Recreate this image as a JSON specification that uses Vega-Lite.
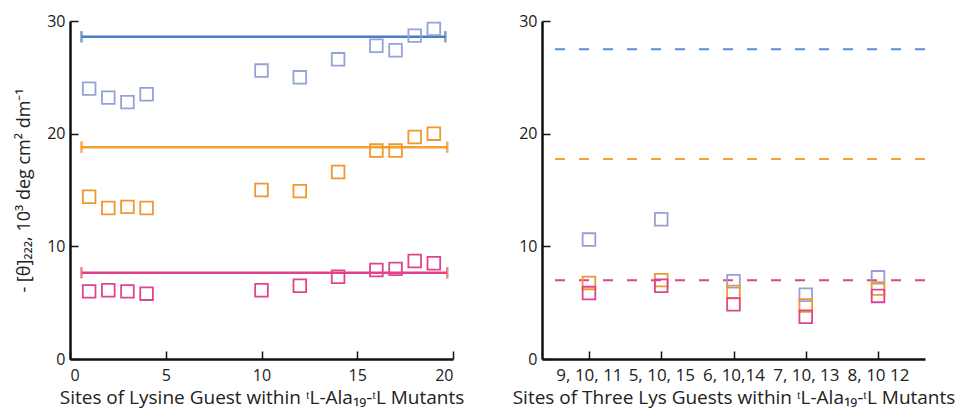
{
  "$schema": "https://vega.github.io/schema/vega-lite/v6.json",
  "background": "white",
  "padding": {"left": 15, "top": 13, "right": 5, "bottom": 5},
  "spacing": 42,
  "config": {
    "view": {"stroke": null},
    "axis": {
      "grid": false,
      "domainColor": "#111",
      "domainWidth": 2.5,
      "tickColor": "#111",
      "tickWidth": 1.5,
      "tickSize": -8,
      "labelFont": "Open Sans",
      "labelFontSize": 16,
      "labelColor": "#222",
      "titleFont": "Open Sans",
      "titleFontSize": 19,
      "titleFontWeight": "normal",
      "titleColor": "#222"
    }
  },
  "datasets": {
    "single": [
      {"site": 1, "series": "blue", "value": 24.0},
      {"site": 2, "series": "blue", "value": 23.2},
      {"site": 3, "series": "blue", "value": 22.8},
      {"site": 4, "series": "blue", "value": 23.5},
      {"site": 10, "series": "blue", "value": 25.6},
      {"site": 12, "series": "blue", "value": 25.0},
      {"site": 14, "series": "blue", "value": 26.6},
      {"site": 16, "series": "blue", "value": 27.8},
      {"site": 17, "series": "blue", "value": 27.4},
      {"site": 18, "series": "blue", "value": 28.7},
      {"site": 19, "series": "blue", "value": 29.3},
      {"site": 1, "series": "orange", "value": 14.4},
      {"site": 2, "series": "orange", "value": 13.4},
      {"site": 3, "series": "orange", "value": 13.5},
      {"site": 4, "series": "orange", "value": 13.4},
      {"site": 10, "series": "orange", "value": 15.0},
      {"site": 12, "series": "orange", "value": 14.9},
      {"site": 14, "series": "orange", "value": 16.6},
      {"site": 16, "series": "orange", "value": 18.5},
      {"site": 17, "series": "orange", "value": 18.5},
      {"site": 18, "series": "orange", "value": 19.7},
      {"site": 19, "series": "orange", "value": 20.0},
      {"site": 1, "series": "pink", "value": 6.0},
      {"site": 2, "series": "pink", "value": 6.1},
      {"site": 3, "series": "pink", "value": 6.0},
      {"site": 4, "series": "pink", "value": 5.8},
      {"site": 10, "series": "pink", "value": 6.1},
      {"site": 12, "series": "pink", "value": 6.5},
      {"site": 14, "series": "pink", "value": 7.3},
      {"site": 16, "series": "pink", "value": 7.9},
      {"site": 17, "series": "pink", "value": 8.0},
      {"site": 18, "series": "pink", "value": 8.7},
      {"site": 19, "series": "pink", "value": 8.5}
    ],
    "levels": [
      {"series": "blue", "start": 0.6, "end": 19.6, "level": 28.6},
      {"series": "orange", "start": 0.6, "end": 19.7, "level": 18.8},
      {"series": "pink", "start": 0.6, "end": 19.7, "level": 7.65}
    ],
    "triple": [
      {"sites": "9, 10, 11", "series": "blue", "value": 10.6},
      {"sites": "9, 10, 11", "series": "orange", "value": 6.75},
      {"sites": "9, 10, 11", "series": "pink", "value": 5.85},
      {"sites": "5, 10, 15", "series": "blue", "value": 12.4},
      {"sites": "5, 10, 15", "series": "orange", "value": 7.0},
      {"sites": "5, 10, 15", "series": "pink", "value": 6.5},
      {"sites": "6, 10,14", "series": "blue", "value": 6.9},
      {"sites": "6, 10,14", "series": "orange", "value": 5.95},
      {"sites": "6, 10,14", "series": "pink", "value": 4.85},
      {"sites": "7, 10, 13", "series": "blue", "value": 5.7},
      {"sites": "7, 10, 13", "series": "orange", "value": 4.75},
      {"sites": "7, 10, 13", "series": "pink", "value": 3.75},
      {"sites": "8, 10 12", "series": "blue", "value": 7.25},
      {"sites": "8, 10 12", "series": "orange", "value": 6.25},
      {"sites": "8, 10 12", "series": "pink", "value": 5.6}
    ],
    "refs": [
      {"series": "blue", "level": 27.5},
      {"series": "orange", "level": 17.75},
      {"series": "pink", "level": 7.0}
    ]
  },
  "hconcat": [
    {
      "width": 383,
      "height": 338,
      "resolve": {"scale": {"color": "independent"}},
      "layer": [
        {
          "data": {"name": "levels"},
          "mark": {"type": "rule", "strokeWidth": 2.5},
          "encoding": {
            "x": {"field": "start", "type": "quantitative"},
            "x2": {"field": "end"},
            "y": {"field": "level", "type": "quantitative"},
            "color": {"field": "series", "type": "nominal", "scale": {"domain": ["blue", "orange", "pink"], "range": ["#4a7cc8", "#f2a12e", "#e2408a"]}, "legend": null}
          }
        },
        {
          "data": {"name": "levels"},
          "mark": {"type": "point", "shape": "M0,-1L0,1", "size": 130, "strokeWidth": 2.5, "filled": false},
          "encoding": {
            "x": {"field": "start", "type": "quantitative"},
            "y": {"field": "level", "type": "quantitative"},
            "color": {"field": "series", "type": "nominal", "legend": null}
          }
        },
        {
          "data": {"name": "levels"},
          "mark": {"type": "point", "shape": "M0,-1L0,1", "size": 130, "strokeWidth": 2.5, "filled": false},
          "encoding": {
            "x": {"field": "end", "type": "quantitative"},
            "y": {"field": "level", "type": "quantitative"},
            "color": {"field": "series", "type": "nominal", "legend": null}
          }
        },
        {
          "data": {"name": "single"},
          "mark": {"type": "point", "shape": "square", "size": 160, "strokeWidth": 1.8, "filled": false, "opacity": 1},
          "encoding": {
            "x": {"field": "site", "type": "quantitative", "scale": {"domain": [0, 20], "nice": false}, "axis": {"values": [0, 5, 10, 15, 20], "title": "Sites of Lysine Guest within  ᵗL-Ala₁₉-ᵗL Mutants", "titlePadding": 5, "labelPadding": 16}},
            "y": {"field": "value", "type": "quantitative", "scale": {"domain": [0, 30], "nice": false}, "axis": {"values": [0, 10, 20, 30], "title": "- [θ]₂₂₂, 10³ deg cm² dm⁻¹", "titleFontSize": 18, "titlePadding": 13, "labelPadding": 13}},
            "color": {"field": "series", "type": "nominal", "scale": {"domain": ["blue", "orange", "pink"], "range": ["#93a3d8", "#f0982e", "#e0448c"]}, "legend": null}
          }
        }
      ]
    },
    {
      "width": 383,
      "height": 338,
      "resolve": {"scale": {"color": "independent"}},
      "layer": [
        {
          "data": {"name": "refs"},
          "mark": {"type": "rule", "strokeWidth": 2, "strokeDash": [10, 14]},
          "encoding": {
            "y": {"field": "level", "type": "quantitative", "scale": {"domain": [0, 30], "nice": false}},
            "color": {"field": "series", "type": "nominal", "scale": {"domain": ["blue", "orange", "pink"], "range": ["#5a8ad2", "#f2a12e", "#e2408a"]}, "legend": null}
          }
        },
        {
          "data": {"name": "triple"},
          "mark": {"type": "point", "shape": "square", "size": 160, "strokeWidth": 1.8, "filled": false, "opacity": 1},
          "encoding": {
            "x": {"field": "sites", "type": "ordinal", "sort": null, "scale": {"type": "point", "padding": 0.65}, "axis": {"title": "Sites of Three Lys Guests within  ᵗL-Ala₁₉-ᵗL Mutants", "labelAngle": 0, "labelFontSize": 17, "titlePadding": 5, "labelPadding": 16}},
            "y": {"field": "value", "type": "quantitative", "scale": {"domain": [0, 30], "nice": false}, "axis": {"values": [0, 10, 20, 30], "title": null, "labelPadding": 13}},
            "color": {"field": "series", "type": "nominal", "scale": {"domain": ["blue", "orange", "pink"], "range": ["#97a0d4", "#f0982e", "#e0448c"]}, "legend": null}
          }
        }
      ]
    }
  ]
}
